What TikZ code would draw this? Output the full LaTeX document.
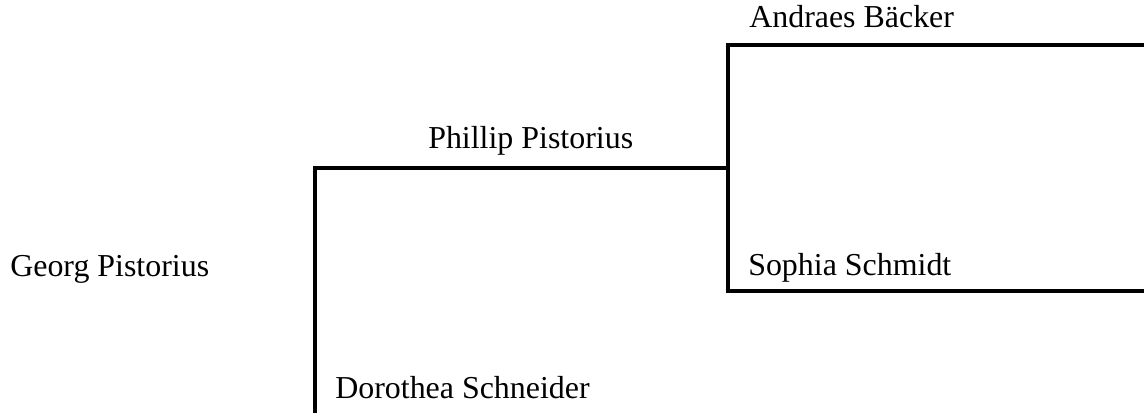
\documentclass[tikz,border=0pt]{standalone}
\usepackage{fontspec}
\setmainfont{Liberation Serif}
\usetikzlibrary{positioning,calc}

\begin{document}
\begin{tikzpicture}[x=0.025cm,y=-0.025cm,
    person/.style={anchor=base west,inner sep=0pt,font=\fontsize{22.7pt}{26pt}\selectfont},
    branch/.style={line width=2.5pt}]
    \useasboundingbox (0,0) rectangle (1144,413);
    \clip (0,0) rectangle (1144,413);
    % people
    \node[person] (georg) at (10,276) {Georg Pistorius};
    \node[person] (phillip) at (428,149) {Phillip Pistorius};
    \node[person] (dorothea) at (335,398) {Dorothea Schneider};
    \node[person] (andraes) at (749,28) {Andraes B\"acker};
    \node[person] (sophia) at (748,275) {Sophia Schmidt};
    % branch points
    \coordinate (fatherEnd) at (728,168);
    \coordinate (fatherStart) at (315,168);
    \coordinate (motherEnd) at (315,430);
    \coordinate (grandpaEnd) at (1150,45);
    \coordinate (grandpaStart) at (728,45);
    \coordinate (grandmaStart) at (728,291);
    \coordinate (grandmaEnd) at (1150,291);
    % lines
    \draw[branch] (fatherEnd) -- (fatherStart) -- (motherEnd);
    \draw[branch] (grandpaEnd) -- (grandpaStart) -- (grandmaStart) -- (grandmaEnd);
\end{tikzpicture}
\end{document}
